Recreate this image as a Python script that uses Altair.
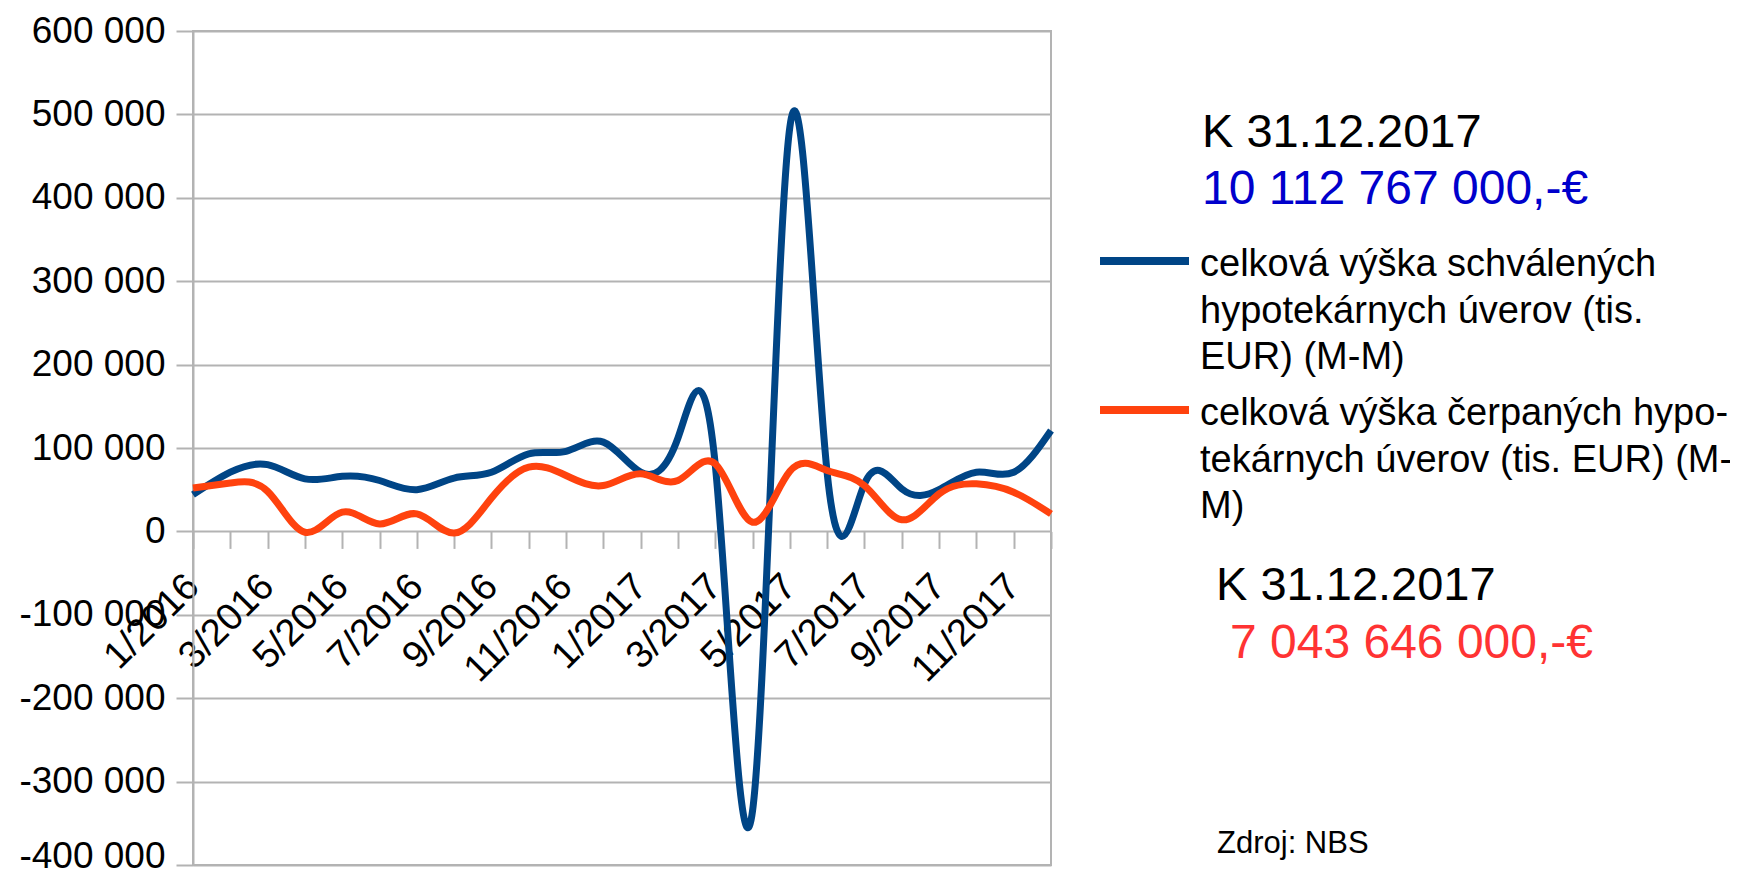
import altair as alt
import pandas as pd

months = ["1/2016", "2/2016", "3/2016", "4/2016", "5/2016", "6/2016", "7/2016", "8/2016",
          "9/2016", "10/2016", "11/2016", "12/2016", "1/2017", "2/2017", "3/2017", "4/2017",
          "5/2017", "6/2017", "7/2017", "8/2017", "9/2017", "10/2017", "11/2017", "12/2017"]
approved = [44000, 71000, 80000, 63000, 66000, 61000, 50000, 64000, 71000, 93000, 96000, 107000,
            71000, 112000, 80000, -335000, 485000, 70000, 57000, 51000, 50000, 71000, 71000, 121000]
drawn = [52000, 58000, 48000, -1000, 23000, 9000, 21000, -2000, 40000, 77000, 67000, 55000,
         69000, 61000, 81000, 11000, 72000, 73000, 55000, 14000, 45000, 57000, 47000, 21000]
series_names = ["celková výška schválených hypotekárnych úverov (tis. EUR) (M-M)",
                "celková výška čerpaných hypotekárnych úverov (tis. EUR) (M-M)"]
legend_labels = ["celková výška schválených\nhypotekárnych úverov (tis.\nEUR) (M-M)",
                 "celková výška čerpaných hypo-\ntekárnych úverov (tis. EUR) (M-\nM)"]
series_colors = ["#004586", "#ff420e"]
y_ticks = list(range(-400000, 600001, 100000))
YMIN, YMAX = -400000, 600000

W, H = 858, 834
FONT = "Liberation Sans"
GRID = "#b3b3b3"

df = pd.DataFrame({
    "month": months * 2,
    "value": approved + drawn,
    "series": [series_names[0]] * len(months) + [series_names[1]] * len(months),
})

x_axis = alt.Axis(
    title=None, orient="bottom", offset=-H * (0 - YMIN) / (YMAX - YMIN),
    domain=False, grid=False, tickSize=17, tickColor=GRID, tickWidth=2,
    labelAngle=-45, labelAlign="right", labelBaseline="middle", labelPadding=32,
    labelFontSize=38, labelFont=FONT, labelColor="black", labelOverlap=False,
    labelExpr="parseInt(split(datum.value, '/')[0]) % 2 == 1 ? datum.value : ''",
)
y_axis = alt.Axis(
    title=None, values=y_ticks, grid=True, gridColor=GRID, gridWidth=2,
    domainColor=GRID, domainWidth=2, tickColor=GRID, tickWidth=2, tickSize=17,
    labelFontSize=37, labelFont=FONT, labelColor="black", labelPadding=11,
    labelOffset={"condition": {"test": f"datum.value == {YMIN}", "value": -9}, "value": 0},
    labelExpr="replace(replace(format(datum.value, ','), regexp(',', 'g'), ' '), '\u2212', '-')",
)

lines = alt.Chart(df).mark_line(interpolate="natural", strokeWidth=7).encode(
    x=alt.X("month:O", sort=months, scale=alt.Scale(type="point", padding=0), axis=x_axis),
    y=alt.Y("value:Q", scale=alt.Scale(domain=[YMIN, YMAX], nice=False), axis=y_axis),
    color=alt.Color("series:N", scale=alt.Scale(domain=series_names, range=series_colors), legend=None),
)

one = pd.DataFrame({"k": [0]})

def text_layer(txt, x, y, size, color, line_height=None):
    kw = dict(align="left", baseline="alphabetic", fontSize=size, font=FONT, color=color, text=txt)
    if line_height:
        kw.update(lineBreak="\n", lineHeight=line_height)
    return alt.Chart(one).mark_text(**kw).encode(x=alt.value(x), y=alt.value(y))

layers = [lines]
# custom legend
for i, (lab, col) in enumerate(zip(legend_labels, series_colors)):
    ly = 230 + i * 149
    layers.append(alt.Chart(one).mark_rule(color=col, strokeWidth=8).encode(
        x=alt.value(907), x2=alt.value(996), y=alt.value(ly)))
    layers.append(text_layer(lab, 1007, ly + 15, 38, "black", 46.5))

layers.append(text_layer("K 31.12.2017", 1009, 116, 47, "black"))
layers.append(text_layer("10 112 767 000,-€", 1009, 173, 48, "#0000cc"))
layers.append(text_layer("K 31.12.2017", 1023, 569, 47, "black"))
layers.append(text_layer("7 043 646 000,-€", 1037, 627, 48, "#ff3333"))
layers.append(text_layer("Zdroj: NBS", 1024, 822, 31, "black"))

chart = alt.layer(*layers).properties(
    width=W, height=H,
    autosize=alt.AutoSizeParams(type="none"),
    padding={"left": 185, "top": 23, "right": 679, "bottom": 7},
).configure_view(stroke=GRID, strokeWidth=2)

chart.save("out.html", embed_options={"renderer": "svg", "actions": False})
